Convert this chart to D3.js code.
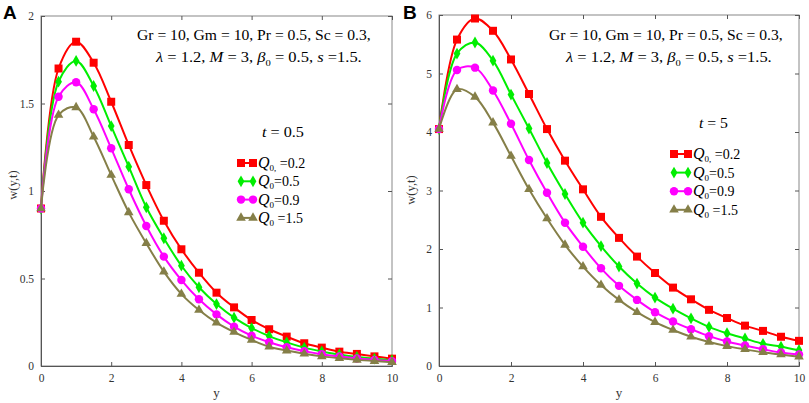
<!DOCTYPE html>
<html>
<head>
<meta charset="utf-8">
<script src="https://cdn.jsdelivr.net/npm/d3@7"></script>
<style>
  body { margin: 0; background: #fff; }
  svg { display: block; }
</style>
</head>
<body>
<div id="chart"></div>
<script>

// y positions where the curves are sampled (markers)
const yValues = [0, 0.5, 1, 1.5, 2, 2.5, 3, 3.5, 4, 4.5, 5, 5.5, 6, 6.5, 7, 7.5, 8, 8.5, 9, 9.5, 10];

const q0Labels = ["0,", "0", "0", "0"];
const q0Values = ["=0.2", "=0.5", "=0.9", "=1.5"];

// panel A, t = 0.5
const aQ02 = [0.9, 1.70, 1.853, 1.733, 1.51, 1.263, 1.034, 0.83, 0.667, 0.533, 0.419, 0.335, 0.263, 0.21, 0.168, 0.13, 0.105, 0.082, 0.069, 0.055, 0.042];
const aQ05 = [0.9, 1.625, 1.743, 1.60, 1.371, 1.139, 0.907, 0.73, 0.573, 0.45, 0.354, 0.276, 0.217, 0.171, 0.135, 0.105, 0.083, 0.066, 0.052, 0.042, 0.033];
const aQ09 = [0.9, 1.539, 1.621, 1.467, 1.244, 1.01, 0.80, 0.625, 0.491, 0.381, 0.295, 0.225, 0.173, 0.136, 0.107, 0.085, 0.067, 0.054, 0.043, 0.035, 0.028];
const aQ15 = [0.9, 1.434, 1.478, 1.31, 1.091, 0.878, 0.701, 0.539, 0.411, 0.32, 0.248, 0.194, 0.149, 0.11, 0.088, 0.07, 0.055, 0.044, 0.035, 0.028, 0.022];

// panel B, t = 5
const bQ02 = [4.05, 5.58, 5.94, 5.73, 5.24, 4.65, 4.05, 3.51, 3.02, 2.55, 2.19, 1.87, 1.59, 1.34, 1.14, 0.96, 0.82, 0.69, 0.60, 0.50, 0.43];
const bQ05 = [4.05, 5.34, 5.53, 5.22, 4.64, 4.06, 3.47, 2.94, 2.45, 2.05, 1.70, 1.41, 1.17, 0.98, 0.815, 0.67, 0.56, 0.47, 0.38, 0.33, 0.27];
const bQ09 = [4.05, 5.06, 5.10, 4.71, 4.14, 3.52, 2.96, 2.45, 2.04, 1.67, 1.37, 1.13, 0.92, 0.76, 0.63, 0.51, 0.42, 0.35, 0.285, 0.23, 0.195];
const bQ15 = [4.05, 4.73, 4.60, 4.16, 3.59, 3.02, 2.52, 2.07, 1.70, 1.385, 1.13, 0.92, 0.75, 0.615, 0.50, 0.41, 0.34, 0.285, 0.235, 0.195, 0.16];

const xTicks = [0, 2, 4, 6, 8, 10];
const aYTicks = [0, 0.5, 1, 1.5, 2];
const bYTicks = [0, 1, 2, 3, 4, 5, 6];

const colors = ["#ff0000", "#00ee00", "#ff00ff", "#857f48"];
const symbols = [d3.symbolSquare, d3.symbolDiamond, d3.symbolCircle, d3.symbolTriangle];
const symSizes = [64, 40, 56, 40];

const width = 809, height = 403;
const serif = "'Liberation Serif', 'Times New Roman', serif";

const svg = d3.select("#chart").append("svg")
    .attr("width", width)
    .attr("height", height)
    .attr("viewBox", `0 0 ${width} ${height}`);

// the source figure is a little stretched sideways, so wide texts get scaled to the measured width
function stretchTo(sel, x0, yBase, targetW) {
    const w = sel.node().getComputedTextLength();
    sel.attr("transform", `translate(${x0},${yBase}) scale(${targetW / w},1)`);
}

function drawPanel(opt) {
    const x = d3.scaleLinear().domain([0, 10]).range([opt.left, opt.right]);
    const y = d3.scaleLinear().domain(opt.yDomain).range([opt.bottom, opt.top]);

    const g = svg.append("g");

    // frame
    g.append("rect")
        .attr("x", opt.left).attr("y", opt.top)
        .attr("width", opt.right - opt.left).attr("height", opt.bottom - opt.top)
        .attr("fill", "none").attr("stroke", "#888").attr("stroke-width", 1);

    // ticks inside on all four sides
    const tickLen = 4;
    g.append("g")
        .attr("transform", `translate(0,${opt.bottom})`)
        .call(d3.axisBottom(x).tickValues(xTicks).tickSize(-tickLen).tickPadding(tickLen + 4).tickFormat(d3.format("d")))
        .call(s => s.select(".domain").attr("stroke", "#555"));
    g.append("g")
        .attr("transform", `translate(0,${opt.top})`)
        .call(d3.axisTop(x).tickValues(xTicks).tickSize(-tickLen).tickFormat(""))
        .call(s => s.select(".domain").remove());
    g.append("g")
        .attr("transform", `translate(${opt.left},0)`)
        .call(d3.axisLeft(y).tickValues(opt.yTicks).tickSize(-tickLen).tickPadding(tickLen + 3).tickFormat(d => d))
        .call(s => s.select(".domain").attr("stroke", "#555"));
    g.append("g")
        .attr("transform", `translate(${opt.right},0)`)
        .call(d3.axisRight(y).tickValues(opt.yTicks).tickSize(-tickLen).tickFormat(""))
        .call(s => s.select(".domain").remove());

    g.selectAll(".tick line").attr("stroke", "#555");
    g.selectAll(".tick text")
        .style("font-family", serif)
        .style("font-size", "11.5px")
        .attr("fill", "#333");

    // curves
    const line = d3.line()
        .x((d, i) => x(yValues[i]))
        .y(d => y(d))
        .curve(d3.curveCatmullRom.alpha(0.5));

    opt.series.forEach((s, k) => {
        g.append("path")
            .datum(s)
            .attr("fill", "none")
            .attr("stroke", colors[k])
            .attr("stroke-width", 2)
            .attr("d", line);
        g.selectAll(null)
            .data(s)
            .enter()
            .append("path")
            .attr("transform", (d, i) => `translate(${x(yValues[i])},${y(d)})`)
            .attr("d", d3.symbol().type(symbols[k]).size(symSizes[k]))
            .attr("fill", colors[k]);
    });

    // axis titles
    svg.append("text")
        .attr("x", (opt.left + opt.right) / 2)
        .attr("y", 397)
        .attr("text-anchor", "middle")
        .style("font-family", serif)
        .style("font-size", "13px")
        .attr("fill", "#333")
        .text("y");
    svg.append("text")
        .attr("transform", `translate(${opt.left - 24},${opt.ytitleY}) rotate(-90)`)
        .attr("text-anchor", "middle")
        .style("font-family", serif)
        .style("font-size", "12.5px")
        .attr("fill", "#333")
        .text("w(y,t)");

    // panel letter
    svg.append("text")
        .attr("x", opt.letterX)
        .attr("y", 19)
        .style("font-family", "'Liberation Sans', Arial, sans-serif")
        .style("font-size", "19px")
        .style("font-weight", "bold")
        .text(opt.letter);

    // parameter annotation
    const t1 = svg.append("text")
        .style("font-family", serif).style("font-size", "14px")
        .text("Gr = 10, Gm = 10, Pr = 0.5, Sc = 0.3,");
    stretchTo(t1, opt.note1[0], 40, opt.note1[1]);

    const t2 = svg.append("text")
        .style("font-family", serif).style("font-size", "14px");
    t2.append("tspan").style("font-style", "italic").text("λ");
    t2.append("tspan").text(" = 1.2, ");
    t2.append("tspan").style("font-style", "italic").text("M");
    t2.append("tspan").text(" = 3, ");
    t2.append("tspan").style("font-style", "italic").text("β");
    t2.append("tspan").attr("dy", 4).style("font-size", "9px").text("0");
    t2.append("tspan").attr("dy", -4).text(" = 0.5, ");
    t2.append("tspan").style("font-style", "italic").text("s");
    t2.append("tspan").text(" =1.5.");
    stretchTo(t2, opt.note2[0], 62, opt.note2[1]);

    // t label
    const tl = svg.append("text")
        .style("font-family", serif).style("font-size", "14px");
    tl.append("tspan").style("font-style", "italic").text("t");
    tl.append("tspan").text(opt.tText);
    stretchTo(tl, opt.tPos[0], opt.tPos[1], opt.tPos[2]);

    // legend
    q0Values.forEach((v, k) => {
        const ly = opt.legY + k * opt.legStep;
        const x0 = opt.legX, x1 = opt.legX + opt.legLen;
        svg.append("line")
            .attr("x1", x0).attr("x2", x1).attr("y1", ly).attr("y2", ly)
            .attr("stroke", colors[k]).attr("stroke-width", 2);
        [x0, x1].forEach(px => {
            svg.append("path")
                .attr("transform", `translate(${px},${ly})`)
                .attr("d", d3.symbol().type(symbols[k]).size(symSizes[k]))
                .attr("fill", colors[k]);
        });
        const lt = svg.append("text")
            .attr("x", x1 + 5).attr("y", ly + 5)
            .style("font-family", serif).style("font-size", "14px");
        lt.append("tspan").style("font-style", "italic").style("font-size", "16px").text("Q");
        lt.append("tspan").attr("dy", 3).style("font-size", "9px").text(q0Labels[k]);
        lt.append("tspan").attr("dy", -3).text((k === 0 || k === 3 ? " " : "") + v);
    });
}

drawPanel({
    left: 41, right: 392, top: 16, bottom: 366,
    yDomain: [0, 2], yTicks: aYTicks,
    series: [aQ02, aQ05, aQ09, aQ15],
    ytitleY: 185, letter: "A", letterX: 3,
    note1: [137, 234], note2: [156, 206],
    tPos: [262, 137, 42], tText: " = 0.5",
    legX: 241, legY: 163, legLen: 12, legStep: 18.3
});

drawPanel({
    left: 439, right: 799, top: 15, bottom: 366,
    yDomain: [0, 6], yTicks: bYTicks,
    series: [bQ02, bQ05, bQ09, bQ15],
    ytitleY: 190, letter: "B", letterX: 403,
    note1: [549, 234], note2: [566, 206],
    tPos: [699, 128, 29], tText: " = 5",
    legX: 674, legY: 154, legLen: 14, legStep: 18.6
});

</script>
</body>
</html>
